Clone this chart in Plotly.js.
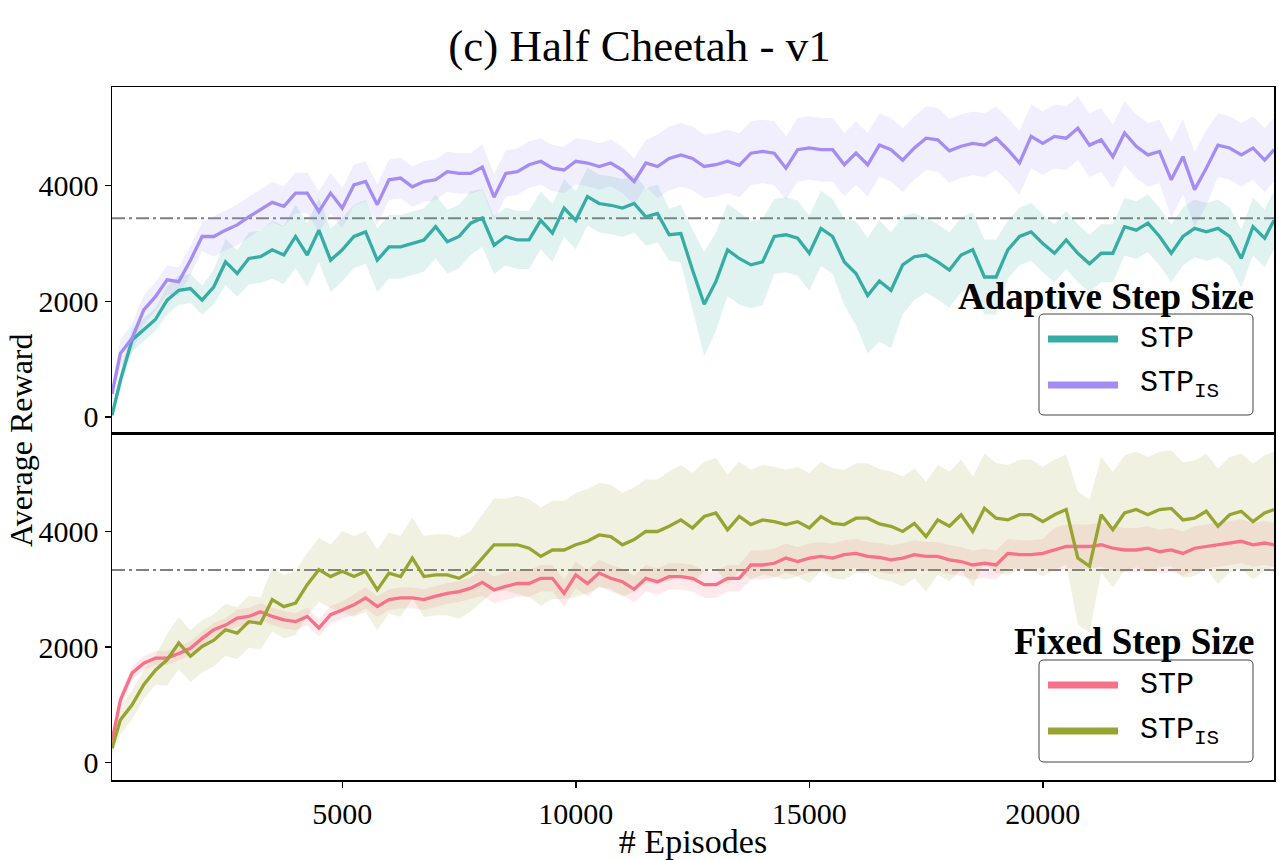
<!DOCTYPE html>
<html>
<head>
<meta charset="utf-8">
<script src="https://cdn.plot.ly/plotly-3.0.1.min.js"></script>
<style>html,body{margin:0;padding:0;background:#fff;}#chart{width:1279px;height:860px;}</style>
</head>
<body>
<div id="chart"></div>
<script>
// ---------------- data ----------------
const episodes = [70,
 250,500,750,1000,1250,1500,1750,2000,2250,2500,
 2750,3000,3250,3500,3750,4000,4250,4500,4750,5000,
 5250,5500,5750,6000,6250,6500,6750,7000,7250,7500,
 7750,8000,8250,8500,8750,9000,9250,9500,9750,10000,
 10250,10500,10750,11000,11250,11500,11750,12000,12250,12500,
 12750,13000,13250,13500,13750,14000,14250,14500,14750,15000,
 15250,15500,15750,16000,16250,16500,16750,17000,17250,17500,
 17750,18000,18250,18500,18750,19000,19250,19500,19750,20000,
 20250,20500,20750,21000,21250,21500,21750,22000,22250,22500,
 22750,23000,23250,23500,23750,24000,24250,24500,24750,24950];

// Adaptive step size
const adaptiveSTP = [30,
 635,1330,1500,1685,2020,2190,2220,2020,2250,2680,
 2480,2740,2770,2890,2800,3120,2800,3230,2710,2890,
 3120,3200,2710,2940,2940,3000,3060,3290,3030,3120,
 3350,3440,2970,3120,3060,3060,3400,3180,3610,3400,
 3810,3690,3660,3610,3690,3460,3520,3150,3170,2540,
 1950,2340,2890,2740,2630,2680,3120,3150,3090,2830,
 3260,3120,2680,2480,2100,2350,2190,2630,2770,2800,
 2680,2540,2800,2890,2420,2420,2890,3120,3200,3000,
 2830,3060,2830,2650,2830,2830,3290,3230,3350,3120,
 2830,3120,3260,3200,3260,3120,2740,3290,3090,3400];
const adaptiveSTPsd = [50,
 150,200,200,200,250,250,250,250,300,400,
 400,450,450,500,500,550,550,550,550,550,
 550,550,550,550,550,550,550,550,550,550,
 550,500,500,500,500,500,500,500,500,500,
 500,500,500,500,500,500,500,450,500,700,
 900,850,800,800,750,750,650,650,650,650,
 650,650,750,900,1000,1050,1000,850,750,650,
 650,650,650,650,650,650,500,500,500,500,
 500,500,500,500,500,500,500,500,500,500,
 500,500,500,500,500,500,500,500,500,500];
const adaptiveSTPIS = [400,
 1100,1360,1850,2080,2370,2340,2710,3120,3120,3230,
 3320,3460,3580,3710,3640,3870,3870,3550,3870,3610,
 4010,4070,3670,4100,4130,3980,4070,4100,4240,4210,
 4210,4320,3800,4210,4240,4360,4420,4300,4270,4420,
 4390,4330,4390,4270,4070,4390,4330,4470,4530,4470,
 4330,4360,4420,4350,4560,4590,4560,4300,4620,4650,
 4620,4620,4360,4560,4360,4700,4620,4440,4650,4820,
 4790,4600,4680,4730,4700,4820,4620,4390,4850,4730,
 4850,4820,4990,4700,4790,4500,4910,4680,4530,4590,
 4100,4500,3930,4300,4700,4650,4530,4650,4440,4620];
const adaptiveSTPISsd = [150,
 250,250,250,250,250,250,250,250,350,350,
 350,350,350,350,350,350,350,350,350,350,
 350,350,350,350,350,350,350,350,350,350,
 350,400,400,400,400,400,400,400,400,400,
 400,400,400,400,400,400,550,550,550,550,
 550,550,550,550,550,550,550,550,550,550,
 550,550,550,550,550,550,550,550,550,550,
 550,550,550,550,550,550,550,550,550,550,
 550,550,550,550,550,550,550,550,550,550,
 650,650,650,650,550,550,550,550,550,550];

// Fixed step size
const fixedSTP = [380,
 1085,1550,1720,1810,1810,1890,1980,2150,2300,2380,
 2500,2530,2610,2530,2470,2440,2530,2330,2560,2640,
 2730,2850,2700,2820,2850,2850,2820,2880,2930,2960,
 3020,3120,2990,3050,3100,3100,3190,3190,2930,3250,
 3100,3280,3190,3130,3000,3190,3130,3220,3220,3190,
 3080,3080,3190,3190,3420,3420,3450,3540,3480,3540,
 3570,3540,3600,3620,3570,3550,3510,3540,3600,3570,
 3570,3510,3480,3420,3450,3420,3620,3600,3600,3620,
 3680,3740,3740,3740,3770,3710,3680,3680,3710,3650,
 3680,3620,3710,3740,3770,3800,3830,3770,3800,3770];
const fixedSTPsd = [80,
 120,120,120,120,120,120,120,120,120,120,
 150,150,150,150,150,150,150,150,150,150,
 180,180,180,180,180,180,180,180,180,180,
 180,230,230,230,230,230,230,230,230,230,
 230,230,230,230,230,230,230,230,230,230,
 230,230,230,230,250,250,250,250,250,250,
 250,250,250,250,250,250,250,250,250,250,
 250,250,250,250,250,250,250,250,250,250,
 380,380,380,380,380,380,380,380,380,380,
 380,380,380,380,380,380,380,380,380,380];
const fixedSTPIS = [250,
 740,1000,1350,1600,1780,2070,1840,2010,2120,2300,
 2240,2440,2410,2820,2700,2760,3080,3340,3220,3310,
 3220,3310,2990,3280,3220,3540,3220,3250,3250,3190,
 3310,3540,3770,3770,3770,3710,3570,3680,3680,3770,
 3830,3940,3910,3770,3860,4000,4000,4090,4200,4060,
 4260,4320,4030,4260,4120,4200,4170,4120,4170,4060,
 4260,4140,4120,4230,4230,4130,4090,4000,4140,3910,
 4200,4090,4290,4000,4400,4230,4200,4290,4290,4170,
 4290,4380,3540,3400,4290,4030,4320,4380,4290,4380,
 4400,4200,4230,4350,4090,4290,4350,4170,4320,4380];
const fixedSTPISsd = [100,
 250,250,250,250,450,450,450,450,450,450,
 450,450,450,550,550,550,550,550,550,700,
 700,700,700,700,700,700,700,700,700,700,
 700,750,800,800,850,850,850,850,850,900,
 900,900,900,900,900,900,900,950,950,950,
 950,950,950,950,950,950,950,950,950,950,
 950,950,950,950,950,950,950,950,950,950,
 950,950,950,950,950,950,950,950,950,950,
 950,950,1150,1150,1000,1000,1000,1000,1000,1000,
 1000,1000,1000,1000,1000,1000,1000,1000,1000,1000];

const referenceLevels = [3436, 3332]; // top, bottom dash-dot lines
const xTicks = [5000, 10000, 15000, 20000];
const xTickLabels = ['5000', '10000', '15000', '20000'];
const yTicks = [0, 2000, 4000];
const yTickLabels = ['0', '2000', '4000'];

const seriesNames = ['STP', 'STP<sub>IS</sub>'];
const panelTitles = ['Adaptive Step Size', 'Fixed Step Size'];
const chartTitle = '(c) Half Cheetah - v1';
const xLabel = '# Episodes';
const yLabel = 'Average Reward';

// ---------------- styling ----------------
const C = {
  teal: '#36ada4', purple: '#a48cf4', pink: '#f77189', olive: '#97a431'
};
function rgba(hex, a) {
  const n = parseInt(hex.slice(1), 16);
  return `rgba(${(n>>16)&255},${(n>>8)&255},${n&255},${a})`;
}
const W = 1279, H = 860, L = 112, R = 5, T = 87, B = 80;
const PW = W - L - R, PH = H - T - B;
const fx = px => (px - L) / PW;
const fy = py => (H - B - py) / PH;
const split = fy(433);

const serif = 'Liberation Serif, DejaVu Serif, serif';
const mono = 'Liberation Mono, DejaVu Sans Mono, monospace';

function bandTrace(mean, sd, color, xa, ya) {
  const up = mean.map((m, i) => m + sd[i]);
  const lo = mean.map((m, i) => m - sd[i]);
  return {
    x: episodes.concat(episodes.slice().reverse()),
    y: up.concat(lo.slice().reverse()),
    xaxis: xa, yaxis: ya, type: 'scatter', mode: 'lines',
    fill: 'toself', fillcolor: rgba(color, 0.15),
    line: {width: 0, color: 'rgba(0,0,0,0)'},
    hoverinfo: 'skip', showlegend: false
  };
}
function lineTrace(mean, color, name, xa, ya) {
  return {
    x: episodes, y: mean, xaxis: xa, yaxis: ya, type: 'scatter', mode: 'lines',
    name: name, line: {color: color, width: 3.3}, showlegend: false
  };
}

const data = [
  bandTrace(adaptiveSTP, adaptiveSTPsd, C.teal, 'x2', 'y2'),
  bandTrace(adaptiveSTPIS, adaptiveSTPISsd, C.purple, 'x2', 'y2'),
  lineTrace(adaptiveSTP, C.teal, seriesNames[0], 'x2', 'y2'),
  lineTrace(adaptiveSTPIS, C.purple, seriesNames[1], 'x2', 'y2'),
  bandTrace(fixedSTP, fixedSTPsd, C.pink, 'x', 'y'),
  bandTrace(fixedSTPIS, fixedSTPISsd, C.olive, 'x', 'y'),
  lineTrace(fixedSTP, C.pink, seriesNames[0], 'x', 'y'),
  lineTrace(fixedSTPIS, C.olive, seriesNames[1], 'x', 'y')
];

const axisCommon = {
  showline: true, mirror: true, linecolor: '#000', linewidth: 1.5,
  showgrid: false, zeroline: false,
  ticks: 'outside', ticklen: 6, tickwidth: 1.5, tickcolor: '#000',
  tickfont: {family: serif, size: 30, color: '#000'}
};

function roundRect(x0p, y0p, x1p, y1p, r) {
  const x0 = fx(x0p), x1 = fx(x1p), y0 = fy(y0p), y1 = fy(y1p);
  const rx = r / PW, ry = r / PH;
  return `M${x0+rx},${y0} L${x1-rx},${y0} Q${x1},${y0} ${x1},${y0-ry} L${x1},${y1+ry} Q${x1},${y1} ${x1-rx},${y1} L${x0+rx},${y1} Q${x0},${y1} ${x0},${y1+ry} L${x0},${y0-ry} Q${x0},${y0} ${x0+rx},${y0} Z`;
}

const legends = [
  {title: panelTitles[0], titleY: 296, box: [314, 415], rows: [339, 385], colors: [C.teal, C.purple]},
  {title: panelTitles[1], titleY: 641, box: [660, 762], rows: [685, 731], colors: [C.pink, C.olive]}
];

const shapes = [
  {type: 'line', xref: 'paper', x0: 0, x1: 1, yref: 'y2', y0: referenceLevels[0], y1: referenceLevels[0],
   line: {color: '#808080', width: 2, dash: '13px,4px,3px,4px'}, layer: 'below'},
  {type: 'line', xref: 'paper', x0: 0, x1: 1, yref: 'y', y0: referenceLevels[1], y1: referenceLevels[1],
   line: {color: '#808080', width: 2, dash: '13px,4px,3px,4px'}, layer: 'below'}
];
const annotations = [
  {text: yLabel, xref: 'paper', yref: 'paper', x: fx(21), y: fy(440), textangle: -90,
   showarrow: false, xanchor: 'center', yanchor: 'middle', font: {family: serif, size: 32, color: '#000'}}
];
legends.forEach(lg => {
  shapes.push({type: 'path', xref: 'paper', yref: 'paper', path: roundRect(1039, lg.box[0], 1253, lg.box[1], 5),
    fillcolor: 'rgba(255,255,255,0.85)', line: {color: '#444', width: 1}, layer: 'above'});
  annotations.push({text: '<b>' + lg.title + '</b>', xref: 'paper', yref: 'paper', x: fx(1256), y: fy(lg.titleY),
    xanchor: 'right', yanchor: 'middle', showarrow: false, font: {family: serif, size: 37, color: '#000'}});
  lg.rows.forEach((ry, k) => {
    shapes.push({type: 'line', xref: 'paper', yref: 'paper', x0: fx(1048), x1: fx(1118), y0: fy(ry), y1: fy(ry),
      line: {color: lg.colors[k], width: 7}, layer: 'above'});
    annotations.push({text: seriesNames[k], xref: 'paper', yref: 'paper', x: fx(1138), y: fy(ry),
      xanchor: 'left', yanchor: 'middle', showarrow: false, font: {family: mono, size: 30, color: '#000'}});
  });
});

const layout = {
  width: W, height: H,
  margin: {l: L, r: R, t: T, b: B},
  paper_bgcolor: '#fff', plot_bgcolor: '#fff',
  showlegend: false, hovermode: false,
  title: {text: chartTitle, x: 0.5, xref: 'container', y: 1 - 45 / H, yref: 'container',
          xanchor: 'center', yanchor: 'middle', font: {family: serif, size: 45, color: '#000'}},
  xaxis: Object.assign({}, axisCommon, {anchor: 'y', domain: [0, 1], range: [70, 24950],
    tickmode: 'array', tickvals: xTicks, ticktext: xTickLabels,
    title: {text: xLabel, font: {family: serif, size: 34, color: '#000'}, standoff: 8}}),
  xaxis2: Object.assign({}, axisCommon, {anchor: 'y2', domain: [0, 1], range: [70, 24950], matches: 'x',
    showticklabels: false, ticks: ''}),
  yaxis: Object.assign({}, axisCommon, {anchor: 'x', domain: [0, split], range: [-300, 5704],
    tickmode: 'array', tickvals: yTicks, ticktext: yTickLabels}),
  yaxis2: Object.assign({}, axisCommon, {anchor: 'x2', domain: [split, 1], range: [-277, 5704],
    tickmode: 'array', tickvals: yTicks, ticktext: yTickLabels}),
  shapes: shapes,
  annotations: annotations
};

Plotly.newPlot('chart', data, layout, {displayModeBar: false, staticPlot: true});
</script>
</body>
</html>
